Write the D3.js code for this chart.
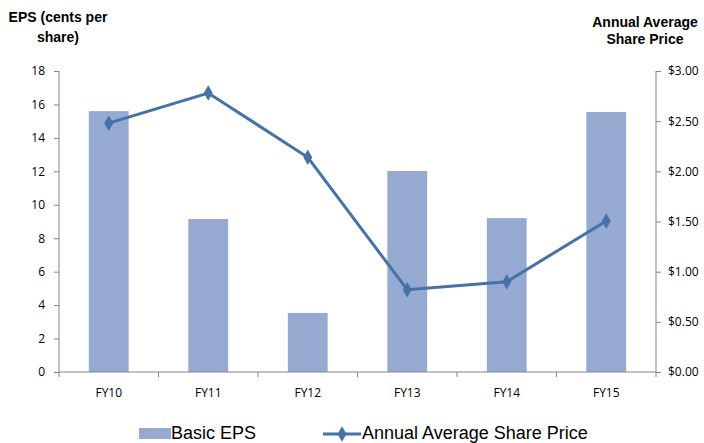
<!DOCTYPE html>
<html>
<head>
<meta charset="utf-8">
<script src="https://cdn.jsdelivr.net/npm/d3@7"></script>
<style>
  body { margin: 0; background: #fff; }
  .axis path, .axis line { stroke: #868686; }
  .axis text { font-family: "Open Sans", "DejaVu Sans", sans-serif; font-size: 12px; fill: #000; }
</style>
</head>
<body>
<script>
// chart values
var years = ["FY10", "FY11", "FY12", "FY13", "FY14", "FY15"];
var eps = [15.6, 9.15, 3.53, 12.02, 9.2, 15.55];
var price = [2.48, 2.78, 2.14, 0.82, 0.90, 1.505];
var epsTicks = [0, 2, 4, 6, 8, 10, 12, 14, 16, 18];
var priceTicks = [0, 0.5, 1, 1.5, 2, 2.5, 3];

// plot box
const w = 704;
const h = 443;
const plotLeft = 59;
const plotRight = 656;
const plotTop = 71;
const plotBottom = 372;

var svg = d3.select("body")
            .append("svg")
            .attr("width", w)
            .attr("height", h);

// scales
var xScale = d3.scaleBand()
               .domain(years)
               .range([plotLeft, plotRight])
               .paddingInner(0.6)
               .paddingOuter(0.3);
var yLeft = d3.scaleLinear().domain([0, 18]).range([plotBottom, plotTop]);
var yRight = d3.scaleLinear().domain([0, 3]).range([plotBottom, plotTop]);

// bars
svg.selectAll("rect.bar")
   .data(eps)
   .enter()
   .append("rect")
   .attr("class", "bar")
   .attr("x", function(d, i) { return xScale(years[i]); })
   .attr("y", function(d) { return yLeft(d); })
   .attr("width", xScale.bandwidth())
   .attr("height", function(d) { return plotBottom - yLeft(d); })
   .attr("fill", "#95a9d1");

// left axis
svg.append("g")
   .attr("class", "axis")
   .attr("transform", "translate(" + plotLeft + ",0)")
   .call(d3.axisLeft(yLeft).tickValues(epsTicks).tickSize(5).tickPadding(9))
   .call(function(g) { g.select(".domain").attr("d", "M0," + plotTop + "V" + plotBottom); });

// right axis
svg.append("g")
   .attr("class", "axis")
   .attr("transform", "translate(" + plotRight + ",0)")
   .call(d3.axisRight(yRight).tickValues(priceTicks).tickSize(5).tickPadding(7)
           .tickFormat(function(d) { return "$" + d.toFixed(2); }))
   .call(function(g) { g.select(".domain").attr("d", "M0," + plotTop + "V" + plotBottom); });

// x axis with ticks between categories
var step = (plotRight - plotLeft) / years.length;
var xAxis = svg.append("g")
   .attr("class", "axis")
   .attr("transform", "translate(0," + plotBottom + ")");
xAxis.append("path")
   .attr("d", "M" + plotLeft + ",0H" + plotRight)
   .attr("stroke", "#868686");
xAxis.selectAll("line")
   .data(d3.range(years.length + 1))
   .enter()
   .append("line")
   .attr("x1", function(d) { return plotLeft + d * step; })
   .attr("x2", function(d) { return plotLeft + d * step; })
   .attr("y1", 0)
   .attr("y2", 5);
xAxis.selectAll("text")
   .data(years)
   .enter()
   .append("text")
   .attr("x", function(d) { return xScale(d) + xScale.bandwidth() / 2; })
   .attr("y", 25)
   .attr("text-anchor", "middle")
   .text(function(d) { return d; });

// share price line
var line = d3.line()
             .x(function(d, i) { return xScale(years[i]) + xScale.bandwidth() / 2; })
             .y(function(d) { return yRight(d); });
svg.append("path")
   .datum(price)
   .attr("d", line)
   .attr("fill", "none")
   .attr("stroke", "#4572a7")
   .attr("stroke-width", 3);

var diamond = d3.symbol().type(d3.symbolDiamond).size(70);
svg.selectAll("path.marker")
   .data(price)
   .enter()
   .append("path")
   .attr("class", "marker")
   .attr("d", diamond)
   .attr("transform", function(d, i) {
       return "translate(" + (xScale(years[i]) + xScale.bandwidth() / 2) + "," + yRight(d) + ")";
   })
   .attr("fill", "#4572a7");

// axis titles
var titleFont = "'Liberation Sans', Arial, sans-serif";
svg.append("text")
   .attr("x", 58).attr("y", 22)
   .attr("text-anchor", "middle")
   .style("font-family", titleFont).style("font-size", "14px").style("font-weight", "bold")
   .text("EPS (cents per");
svg.append("text")
   .attr("x", 58).attr("y", 42)
   .attr("text-anchor", "middle")
   .style("font-family", titleFont).style("font-size", "14px").style("font-weight", "bold")
   .text("share)");
svg.append("text")
   .attr("x", 645).attr("y", 27)
   .attr("text-anchor", "middle")
   .style("font-family", titleFont).style("font-size", "14px").style("font-weight", "bold")
   .text("Annual Average");
svg.append("text")
   .attr("x", 645).attr("y", 44)
   .attr("text-anchor", "middle")
   .style("font-family", titleFont).style("font-size", "14px").style("font-weight", "bold")
   .text("Share Price");

// legend
svg.append("rect")
   .attr("x", 139).attr("y", 428)
   .attr("width", 32).attr("height", 11)
   .attr("fill", "#95a9d1");
svg.append("text")
   .attr("x", 171).attr("y", 439)
   .style("font-family", titleFont).style("font-size", "18px")
   .text("Basic EPS");
svg.append("line")
   .attr("x1", 323).attr("x2", 361)
   .attr("y1", 434).attr("y2", 434)
   .attr("stroke", "#4572a7").attr("stroke-width", 3);
svg.append("path")
   .attr("d", diamond)
   .attr("transform", "translate(342,434)")
   .attr("fill", "#4572a7");
svg.append("text")
   .attr("x", 362).attr("y", 439)
   .style("font-family", titleFont).style("font-size", "18px")
   .text("Annual Average Share Price");
</script>
</body>
</html>
